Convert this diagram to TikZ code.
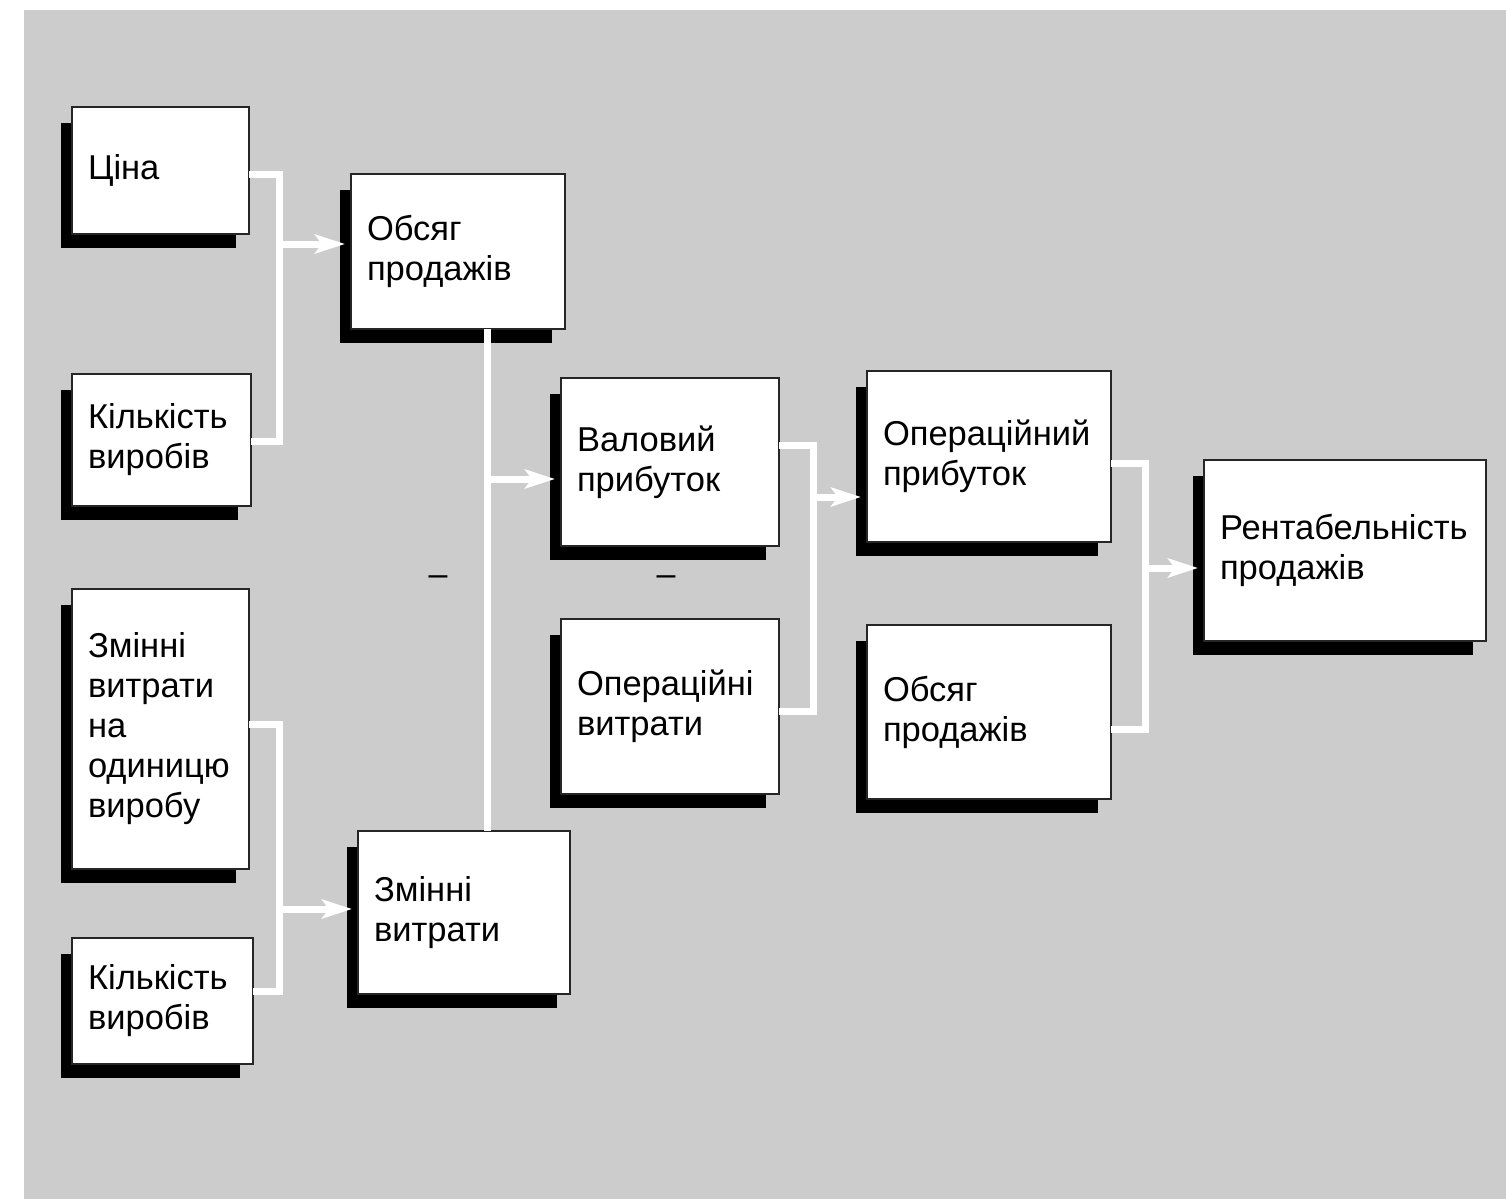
\documentclass[tikz,border=0pt]{standalone}
\usepackage{fontspec}
\setmainfont{Liberation Sans}
\usetikzlibrary{arrows.meta}
\pgfdeclarelayer{bglayer}
\pgfdeclarelayer{shadowlayer}
\pgfsetlayers{bglayer,shadowlayer,main}
\definecolor{bggray}{HTML}{CCCCCC}
\newcommand\shadowof[1]{\begin{pgfonlayer}{shadowlayer}\fill[black] ([xshift=-11pt,yshift=-16pt]#1.north west) rectangle ([xshift=-13pt,yshift=-14pt]#1.south east);\end{pgfonlayer}}
\begin{document}
\begin{tikzpicture}[x=1pt,y=-1pt,
  box/.style={draw=black!85, line width=1.2pt, fill=white, inner xsep=16pt, inner ysep=0pt, outer sep=0pt,
    align=left, font=\fontsize{34.5}{40}\selectfont},
  wire/.style={draw=white, line width=7pt},
  arrowwire/.style={wire, -{Stealth[length=30pt,width=19pt,inset=7pt]}, shorten >=6pt},
  minus/.style={anchor=base, inner sep=0pt, font=\fontsize{34}{40}\selectfont}]
\useasboundingbox (0,0) rectangle (1506,1199);
\begin{pgfonlayer}{bglayer}
\fill[white] (0,0) rectangle (1506,1199);
\fill[bggray] (24,10) rectangle (1506,1199);
\end{pgfonlayer}

\node[box, minimum width=177pt, minimum height=127pt, text width=145pt] (cina) at (160.5,170.5) {Ціна};
\shadowof{cina}
\node[box, minimum width=179pt, minimum height=132pt, text width=147pt] (kil1) at (161.5,440) {Кількість\\виробів};
\shadowof{kil1}
\node[box, minimum width=177pt, minimum height=280pt, text width=145pt] (zmod) at (160.5,729) {Змінні\\витрати\\на\\одиницю\\виробу};
\shadowof{zmod}
\node[box, minimum width=181pt, minimum height=126pt, text width=149pt] (kil2) at (162.5,1001) {Кількість\\виробів};
\shadowof{kil2}
\node[box, minimum width=214pt, minimum height=155pt, text width=182pt] (obs1) at (458,251.5) {Обсяг\\продажів};
\shadowof{obs1}
\node[box, minimum width=212pt, minimum height=163pt, text width=180pt] (zmv) at (464,912.5) {Змінні\\витрати};
\shadowof{zmv}
\node[box, minimum width=218pt, minimum height=168pt, text width=186pt] (val) at (670,462) {Валовий\\прибуток};
\shadowof{val}
\node[box, minimum width=218pt, minimum height=175pt, text width=186pt] (opv) at (670,706.5) {Операційні\\витрати};
\shadowof{opv}
\node[box, minimum width=244pt, minimum height=171pt, text width=212pt] (opp) at (989,456.5) {Операційний\\прибуток};
\shadowof{opp}
\node[box, minimum width=244pt, minimum height=174pt, text width=212pt] (obs2) at (989,712) {Обсяг\\продажів};
\shadowof{obs2}
\node[box, minimum width=282pt, minimum height=181pt, text width=250pt] (rent) at (1345,550.5) {Рентабельність\\продажів};
\shadowof{rent}

% junction coordinates
\coordinate (jAt) at (279,174.5);
\coordinate (jAb) at (279,441);
\coordinate (jA) at (279,244);
\coordinate (jB) at (487,479);
\coordinate (jCt) at (813,445);
\coordinate (jCb) at (813,711);
\coordinate (jC) at (813,497);
\coordinate (jDt) at (1145.5,463);
\coordinate (jDb) at (1145.5,729);
\coordinate (jD) at (1145.5,568);
\coordinate (jEt) at (279,724.5);
\coordinate (jEb) at (279,991);
\coordinate (jE) at (279,909);

\draw[wire] (cina.east |- jAt) -- (jAt) -- (jAb) -- (kil1.east |- jAb);
\draw[arrowwire] (jA) -- (jA -| obs1.west);

\draw[wire] (obs1.south -| jB) -- (zmv.north -| jB);
\draw[arrowwire] (jB) -- (jB -| val.west);

\draw[wire] (val.east |- jCt) -- (jCt) -- (jCb) -- (opv.east |- jCb);
\draw[arrowwire] (jC) -- (jC -| opp.west);

\draw[wire] (opp.east |- jDt) -- (jDt) -- (jDb) -- (obs2.east |- jDb);
\draw[arrowwire] (jD) -- (jD -| rent.west);

\draw[wire] (zmod.east |- jEt) -- (jEt) -- (jEb) -- (kil2.east |- jEb);
\draw[arrowwire] (jE) -- (jE -| zmv.west);

\node[minus] (m1) at (438,585) {–};
\node[minus] (m2) at (666,585) {–};
\end{tikzpicture}
\end{document}
